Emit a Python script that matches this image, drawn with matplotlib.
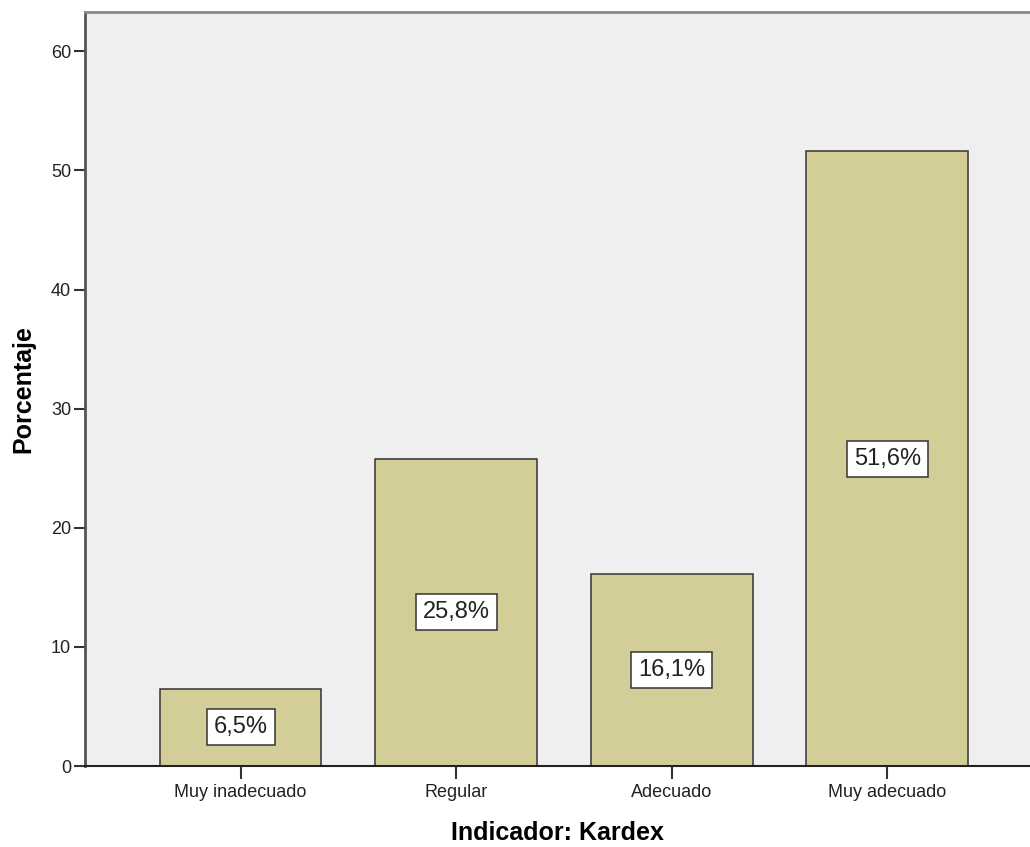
import matplotlib
matplotlib.use('Agg')
import matplotlib.pyplot as plt

categorias = ['Muy inadecuado', 'Regular', 'Adecuado', 'Muy adecuado']
porcentajes = [6.5, 25.8, 16.1, 51.6]
etiquetas = ['6,5%', '25,8%', '16,1%', '51,6%']
yticks = [0, 10, 20, 30, 40, 50, 60]

plt.rcParams['font.family'] = ['Liberation Sans', 'DejaVu Sans']

fig = plt.figure(figsize=(10.3, 8.47), dpi=100)
ax = fig.add_axes([0.0825, 0.0956, 0.9175, 0.8902])
ax.set_facecolor('#efefef')

x = list(range(len(categorias)))
ax.bar(x, porcentajes, width=0.75, color='#d3ce98', edgecolor='#333333',
       linewidth=1.1, zorder=2)

# etiquetas de porcentaje al centro de cada barra
for xi, val, txt in zip(x, porcentajes, etiquetas):
    ax.text(xi, val / 2, txt, ha='center', va='center', fontsize=17,
            color='#222222', zorder=3,
            bbox=dict(boxstyle='square,pad=0.3', facecolor='white',
                      edgecolor='#333333', linewidth=1.1))

ax.set_xlim(-0.722, 3.662)
ax.set_ylim(0, 63.3)
ax.set_xticks(x)
ax.set_xticklabels(categorias, fontsize=13, color='#222222')
ax.set_yticks(yticks)
ax.set_yticklabels([str(t) for t in yticks], fontsize=13, color='#222222')
ax.tick_params(axis='y', length=8, width=1.5, pad=2, color='#333333')
ax.tick_params(axis='x', length=9, width=1.5, pad=4, color='#333333')

ax.spines['right'].set_visible(False)
ax.spines['top'].set_color('#888888')
ax.spines['top'].set_linewidth(2)
ax.spines['left'].set_color('#555555')
ax.spines['left'].set_linewidth(2)
ax.spines['bottom'].set_color('#222222')
ax.spines['bottom'].set_linewidth(1.5)

ax.set_ylabel('Porcentaje', fontsize=18, fontweight='bold', labelpad=11)
ax.set_xlabel('Indicador: Kardex', fontsize=18, fontweight='bold', labelpad=14)

fig.savefig('out.png', dpi=100, facecolor='white')
